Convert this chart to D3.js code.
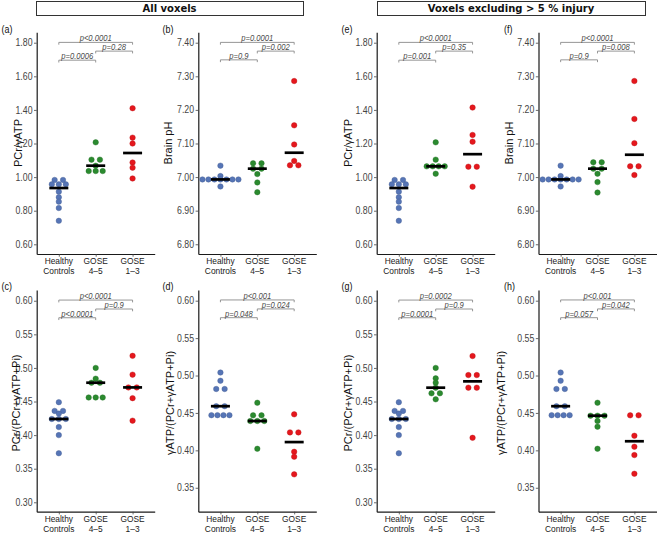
<!DOCTYPE html>
<html><head><meta charset="utf-8">
<script src="https://cdn.jsdelivr.net/npm/d3@7"></script>
<style>body{margin:0;background:#fff} svg{display:block}</style>
</head><body>
<svg id="chart" width="660" height="533"></svg>
<script>
// ---------- data ----------
const groups = ["Healthy Controls", "GOSE 4–5", "GOSE 1–3"];
const groupLabels = [["Healthy", "Controls"], ["GOSE", "4–5"], ["GOSE", "1–3"]];
const sectionTitles = ["All voxels", "Voxels excluding > 5 % injury"];
const panelLetters = ["(a)", "(b)", "(c)", "(d)", "(e)", "(f)", "(g)", "(h)"];
const yTitles = ["PCr/γATP", "Brain pH", "PCr/(PCr+γATP+Pi)", "γATP/(PCr+γATP+Pi)"];

// healthy controls (same in both voxel sets)
const hcPCrATP = [0.983, 0.983, 0.957, 0.957, 0.957, 0.913, 0.880, 0.854, 0.816, 0.740];
const hcPH = [7.034, 7.003, 6.993, 6.993, 6.993, 6.993, 6.993, 6.993, 6.993, 6.972];
const hcPCrFrac = [0.449, 0.436, 0.436, 0.432, 0.424, 0.424, 0.424, 0.412, 0.400, 0.373];
const hcATPFrac = [0.504, 0.493, 0.482, 0.482, 0.459, 0.459, 0.447, 0.447, 0.447, 0.447];

// all voxels
const g45PCrATPAll = [1.207, 1.104, 1.104, 1.068, 1.036, 1.036, 1.036];
const g13PCrATPAll = [1.410, 1.235, 1.200, 1.087, 1.056, 0.992];
const g45PHAll = [7.041, 7.041, 7.025, 7.025, 7.009, 6.984, 6.955];
const g13PHAll = [7.286, 7.154, 7.097, 7.048, 7.035, 7.035];
const g45PCrFracAll = [0.500, 0.484, 0.478, 0.478, 0.456, 0.456, 0.456];
const g13PCrFracAll = [0.518, 0.490, 0.471, 0.471, 0.455, 0.4215];
const g45ATPFracAll = [0.4636, 0.4468, 0.4468, 0.4392, 0.4392, 0.4392, 0.4021];
const g13ATPFracAll = [0.4481, 0.424, 0.424, 0.3981, 0.3915, 0.3679];

// voxels excluding > 5 % injury
const g45PCrATPExcl = [1.207, 1.104, 1.064, 1.064, 1.064, 1.064, 1.020];
const g13PCrATPExcl = [1.414, 1.251, 1.211, 1.062, 1.062, 0.943];
const g45PHExcl = [7.044, 7.044, 7.025, 7.025, 7.010, 6.985, 6.954];
const g13PHExcl = [7.286, 7.173, 7.101, 7.032, 7.032, 7.006];
const g45PCrFracExcl = [0.500, 0.4845, 0.478, 0.4706, 0.4622, 0.4622, 0.4533];
const g13PCrFracExcl = [0.5177, 0.4894, 0.4894, 0.4706, 0.4706, 0.396];
const g45ATPFracExcl = [0.4636, 0.4463, 0.4463, 0.4463, 0.4392, 0.4316, 0.4021];
const g13ATPFracExcl = [0.4468, 0.4468, 0.4195, 0.4048, 0.3937, 0.3687];

// p-value labels: [HC vs 1-3, 4-5 vs 1-3, HC vs 4-5]
const pA = ["p<0.0001", "p=0.28", "p=0.0006"];
const pB = ["p=0.0001", "p=0.002", "p=0.9"];
const pC = ["p<0.0001", "p=0.9", "p<0.0001"];
const pD = ["p<0.001", "p=0.024", "p=0.048"];
const pE = ["p<0.0001", "p=0.35", "p=0.001"];
const pF = ["p<0.0001", "p=0.008", "p=0.9"];
const pG = ["p=0.0002", "p=0.9", "p=0.0001"];
const pH = ["p<0.001", "p=0.042", "p=0.057"];
const bracketPairs = [[0, 2], [1, 2], [0, 1]];

// axis limits, ticks, bracket heights (data units)
const domPCrATP = [0.5423, 1.862], ticksPCrATP = [0.6, 0.8, 1.0, 1.2, 1.4, 1.6, 1.8], brPCrATP = [1.802, 1.750, 1.696];
const domPH = [6.771, 7.431], ticksPH = [6.8, 6.9, 7.0, 7.1, 7.2, 7.3, 7.4], brPH = [7.401, 7.375, 7.349];
const domPCrFrac = [0.286, 0.616], ticksPCrFrac = [0.30, 0.35, 0.40, 0.45, 0.50, 0.55, 0.60], brPCrFrac = [0.601, 0.5877, 0.5747];
const domATPFrac = [0.318, 0.6143], ticksATPFrac = [0.35, 0.40, 0.45, 0.50, 0.55, 0.60], brATPFrac = [0.601, 0.589, 0.5773];

const colors = ["#5675B6", "#2B8A2F", "#E5171D"];

// ---------- layout ----------
const FONT = "'Liberation Sans', Arial, Helvetica, sans-serif";
const SX = 0.85;
const colX0 = [36.7, 198.3, 376.7, 538.5];
const PW = 118;
const rowY = [[32.3, 254], [290, 511.7]];
const yTitleX = [[22, 172, 352, 512.5], [20, 174, 352, 505]];
const yTitleY = [143, 403];
const letterX = [1.5, 162.5, 341.5, 504];
const letterY = [33, 290];

const panels = [
  {L: 0, c: 0, r: 0, t: 0, dom: domPCrATP, ticks: ticksPCrATP, br: brPCrATP, vals: [hcPCrATP, g45PCrATPAll, g13PCrATPAll], p: pA},
  {L: 1, c: 1, r: 0, t: 1, dom: domPH, ticks: ticksPH, br: brPH, vals: [hcPH, g45PHAll, g13PHAll], p: pB},
  {L: 2, c: 0, r: 1, t: 2, dom: domPCrFrac, ticks: ticksPCrFrac, br: brPCrFrac, vals: [hcPCrFrac, g45PCrFracAll, g13PCrFracAll], p: pC},
  {L: 3, c: 1, r: 1, t: 3, dom: domATPFrac, ticks: ticksATPFrac, br: brATPFrac, vals: [hcATPFrac, g45ATPFracAll, g13ATPFracAll], p: pD},
  {L: 4, c: 2, r: 0, t: 0, dom: domPCrATP, ticks: ticksPCrATP, br: brPCrATP, vals: [hcPCrATP, g45PCrATPExcl, g13PCrATPExcl], p: pE},
  {L: 5, c: 3, r: 0, t: 1, dom: domPH, ticks: ticksPH, br: brPH, vals: [hcPH, g45PHExcl, g13PHExcl], p: pF},
  {L: 6, c: 2, r: 1, t: 2, dom: domPCrFrac, ticks: ticksPCrFrac, br: brPCrFrac, vals: [hcPCrFrac, g45PCrFracExcl, g13PCrFracExcl], p: pG},
  {L: 7, c: 3, r: 1, t: 3, dom: domATPFrac, ticks: ticksATPFrac, br: brATPFrac, vals: [hcATPFrac, g45ATPFracExcl, g13ATPFracExcl], p: pH}
];

const svg = d3.select("#chart");
svg.append("rect").attr("width", 660).attr("height", 533).attr("fill", "#fff");

function htext(g, x, y, str, o = {}) {
  return g.append("text")
    .attr("transform", `translate(${x},${y}) scale(${o.sx ?? SX},1)`)
    .attr("text-anchor", o.anchor || "start")
    .attr("font-family", o.family || FONT)
    .attr("font-size", o.size || 10)
    .attr("font-weight", o.weight || "normal")
    .attr("font-style", o.style || "normal")
    .attr("fill", o.fill || "#222")
    .text(str);
}

// section title boxes
const boxes = [[36, 303], [377, 645]];
boxes.forEach((b, i) => {
  svg.append("rect").attr("x", b[0] + 0.5).attr("y", 1.5).attr("width", b[1] - b[0]).attr("height", 14)
    .attr("fill", "none").attr("stroke", "#333").attr("stroke-width", 1);
  htext(svg, (b[0] + b[1]) / 2, 12, sectionTitles[i], {anchor: "middle", size: 10, weight: "bold", family: "'DejaVu Sans', Verdana, sans-serif", sx: 1, fill: "#111"});
});

function offsets(n) {
  if (n === 1) return [0];
  const s = n === 2 ? 8.4 : n === 3 ? 7 : 6;
  return d3.range(n).map(i => (i - (n - 1) / 2) * s);
}

panels.forEach(P => {
  const x0 = colX0[P.c], x1 = x0 + PW;
  const [yT, yB] = rowY[P.r];
  const x = d3.scalePoint().domain(groups).range([x0, x1]).padding(0.6);
  const y = d3.scaleLinear().domain(P.dom).range([yB, yT]);
  const g = svg.append("g");

  // y axis
  const ya = g.append("g").attr("transform", `translate(${x0},0)`)
    .call(d3.axisLeft(y).tickValues(P.ticks).tickFormat(d3.format(".2f")).tickSize(2.7).tickSizeOuter(0));
  ya.select(".domain").attr("stroke", "#1a1a1a").attr("stroke-width", 1.2);
  ya.selectAll(".tick line").attr("stroke", "#444").attr("stroke-width", 0.8);
  ya.selectAll(".tick text").remove();
  P.ticks.forEach(t => htext(g, x0 - 4.2, y(t) + 3.6, d3.format(".2f")(t), {anchor: "end", size: 10.3, fill: "#444"}));

  // x axis
  const xa = g.append("g").attr("transform", `translate(0,${yB})`)
    .call(d3.axisBottom(x).tickSize(2.7).tickSizeOuter(0).tickFormat(""));
  xa.select(".domain").attr("stroke", "#1a1a1a").attr("stroke-width", 1.2);
  xa.selectAll(".tick line").attr("stroke", "#444").attr("stroke-width", 0.8);
  groups.forEach((grp, i) => {
    htext(g, x(grp), yB + 9.9, groupLabels[i][0], {anchor: "middle", size: 9, sx: 0.93, fill: "#1a1a1a"});
    htext(g, x(grp), yB + 20.1, groupLabels[i][1], {anchor: "middle", size: 9, sx: 0.93, fill: "#1a1a1a"});
  });

  // axis title
  g.append("text")
    .attr("transform", `translate(${yTitleX[P.r][P.c]},${yTitleY[P.r]}) rotate(-90)`)
    .attr("text-anchor", "middle").attr("font-family", FONT).attr("font-size", 11).attr("fill", "#111")
    .text(yTitles[P.t]);

  // panel letter
  htext(g, letterX[P.c], letterY[P.r], panelLetters[P.L], {size: 10.5, fill: "#111"});

  // significance brackets
  bracketPairs.forEach((pr, k) => {
    const xa1 = x(groups[pr[0]]), xa2 = x(groups[pr[1]]), yy = y(P.br[k]);
    g.append("path").attr("d", `M${xa1},${yy + 2.3}V${yy}H${xa2}V${yy + 2.3}`)
      .attr("fill", "none").attr("stroke", "#8a8a8a").attr("stroke-width", 0.9);
    htext(g, (xa1 + xa2) / 2, yy - 1.1, P.p[k], {anchor: "middle", size: 9, style: "italic", fill: "#4a4a4a"});
  });

  // dots
  P.vals.forEach((vals, gi) => {
    const cx = x(groups[gi]);
    const rows = d3.groups(vals, v => v);
    rows.forEach(([v, arr]) => {
      const off = offsets(arr.length);
      arr.forEach((d, i) => {
        g.append("circle").attr("cx", cx + off[i]).attr("cy", y(d)).attr("r", 2.75)
          .attr("fill", colors[gi]).attr("stroke", d3.color(colors[gi]).darker(0.6)).attr("stroke-width", 0.4);
      });
    });
  });

  // medians
  P.vals.forEach((vals, gi) => {
    const cx = x(groups[gi]), m = y(d3.median(vals));
    g.append("line").attr("x1", cx - 9.5).attr("x2", cx + 9.5).attr("y1", m).attr("y2", m)
      .attr("stroke", "#000").attr("stroke-width", 2.7);
  });
});
</script>
</body></html>
